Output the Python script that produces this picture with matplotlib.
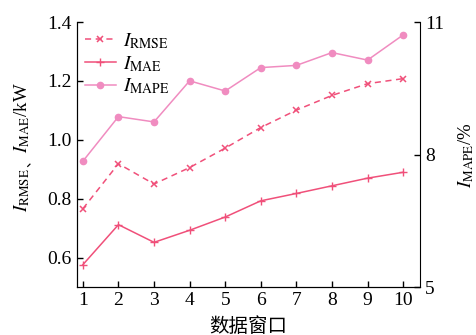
import numpy as np
import matplotlib.pyplot as plt

plt.rcParams['font.family'] = ['Liberation Serif', 'Noto Sans CJK SC']
plt.rcParams['mathtext.fontset'] = 'stix'

windows = np.arange(1, 11)
rmse = [0.766, 0.919, 0.850, 0.906, 0.972, 1.042, 1.101, 1.151, 1.191, 1.208]
mae = [0.576, 0.712, 0.652, 0.693, 0.738, 0.793, 0.818, 0.844, 0.870, 0.890]
mape = [7.85, 8.86, 8.74, 9.67, 9.44, 9.97, 10.02, 10.31, 10.14, 10.71]

red = '#f0507a'
pink = '#f08cc0'

fig = plt.figure(figsize=(4.77, 3.35), dpi=100)
ax = fig.add_axes([0.161, 0.143, 0.72, 0.791])
ax2 = ax.twinx()

l1, = ax.plot(windows, rmse, '--', color=red, marker='x', ms=4, mew=1.1, lw=1.1,
              dashes=(4, 3), label=r'$I_{\rm RMSE}$')
l2, = ax.plot(windows, mae, '-', color=red, marker='+', ms=6, mew=1.0, lw=1.1,
              label=r'$I_{\rm MAE}$')
l3, = ax2.plot(windows, mape, '-', color=pink, marker='o', ms=4.5, lw=1.1,
               label=r'$I_{\rm MAPE}$')

ax.set_xlim(0.83, 10.48)
ax.set_ylim(0.5, 1.4)
ax2.set_ylim(5, 11)
ax.set_xticks(windows)
ax.set_yticks([0.6, 0.8, 1.0, 1.2, 1.4])
ax.set_yticklabels(['0.6', '0.8', '1.0', '1.2', '1.4'])
ax2.set_yticks([5, 8, 11])

for a in (ax, ax2):
    a.spines['top'].set_visible(False)
    a.tick_params(direction='in', labelsize=14, length=4, width=1)
ax.spines['right'].set_visible(False)

ax.set_xlabel('数据窗口', fontsize=14, labelpad=6)
ax2.set_ylabel(r'$I_{\rm MAPE}$/%', fontsize=13.5, labelpad=9)

# left label: the CJK comma is drawn as plain text between two mathtext pieces
lx = 0.046
t1 = fig.text(lx, 0.367, r'$I_{\rm RMSE}$', rotation=90, fontsize=13.5,
              ha='center', va='bottom')
fig.canvas.draw()
bb1 = t1.get_window_extent().transformed(fig.transFigure.inverted())
t2 = fig.text(lx + 0.008, bb1.y1 + 0.002, '、', rotation=90, fontsize=10,
              ha='center', va='bottom', family='Noto Sans CJK SC')
fig.canvas.draw()
bb2 = t2.get_window_extent().transformed(fig.transFigure.inverted())
fig.text(lx, bb2.y1 + 0.002, r'$I_{\rm MAE}$/kW', rotation=90, fontsize=13.5,
         ha='center', va='bottom')

ax.legend(handles=[l1, l2, l3], loc='upper left', frameon=False, fontsize=14,
          handlelength=1.6, handletextpad=0.4, labelspacing=0.15,
          borderaxespad=0.0, bbox_to_anchor=(0.0, 0.995))

fig.savefig('out.png', dpi=100)
